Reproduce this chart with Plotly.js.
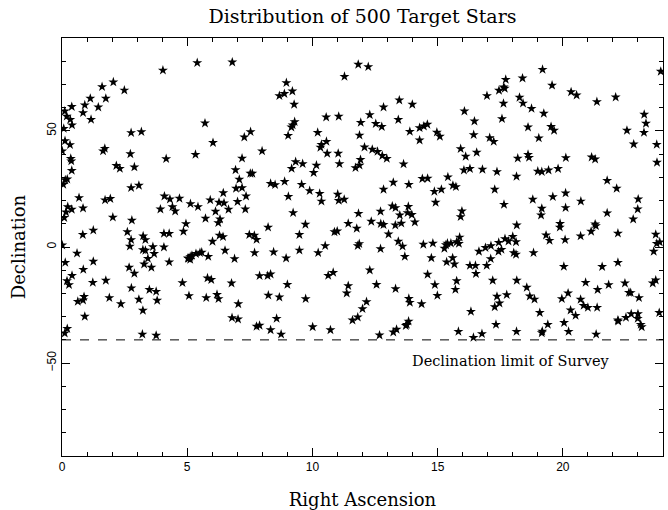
<!DOCTYPE html>
<html>
<head>
<meta charset="utf-8">
<script src="https://cdn.plot.ly/plotly-3.0.1.min.js"></script>
<style>html,body{margin:0;padding:0;background:#fff}#chart{width:668px;height:510px}</style>
</head>
<body>
<div id="chart"></div>
<script>
// Right Ascension (hours) of the target stars
const ra = [
4.03,2.05,1.60,2.49,1.13,1.75,0.91,0.39,1.45,0.11,0.84,0.19,0.33,1.16,0.40,0.07,2.76,3.17,0.12,0.32,
1.71,1.64,0.01,2.73,0.35,0.37,4.16,2.17,2.31,2.89,0.39,0.13,0.21,0.05,3.07,2.76,0.68,1.72,1.93,4.09,
4.31,4.69,0.23,0.39,0.16,0.84,0.09,3.93,4.41,4.52,2.03,2.79,1.25,0.83,2.61,2.76,3.24,3.33,4.07,4.28,
2.71,3.63,4.07,0.01,3.23,3.33,3.68,0.60,3.43,3.28,3.57,4.28,0.13,1.25,0.85,2.68,2.89,0.40,0.20,0.28,
1.23,1.75,2.77,3.49,3.76,0.88,0.84,0.63,1.89,2.35,3.07,3.80,3.23,0.91,0.21,0.11,3.21,3.76,
5.40,6.80,8.96,8.68,8.88,9.20,9.27,5.71,9.29,9.21,9.16,7.53,7.28,9.03,6.03,5.33,7.99,7.19,9.33,9.17,
6.93,7.52,7.60,7.08,8.33,8.51,8.89,6.95,7.19,6.44,7.35,9.04,5.13,5.92,6.27,6.47,7.01,5.43,6.13,6.65,
7.32,9.23,5.73,6.31,6.24,4.95,4.85,8.23,6.29,6.43,7.48,7.68,7.77,6.01,9.48,6.51,7.69,8.45,9.48,6.89,
8.95,5.05,5.12,5.19,5.35,5.51,5.58,5.84,5.12,5.03,4.81,5.81,5.96,6.77,7.89,8.21,8.33,9.00,5.07,5.76,
6.19,6.25,8.24,8.68,7.04,6.79,7.03,8.57,7.77,7.89,8.33,8.75,
11.83,12.23,11.28,13.47,13.99,12.84,10.55,11.05,12.29,11.93,12.53,12.77,13.43,10.21,11.88,13.89,14.28,14.28,10.56,10.36,
10.32,10.59,11.03,12.08,12.39,12.60,12.79,12.97,11.92,11.88,11.72,9.61,10.16,11.08,13.64,10.05,9.57,9.89,10.29,10.36,
11.01,11.05,11.27,12.84,13.23,13.85,13.19,13.32,13.83,13.80,13.97,13.49,12.72,11.84,9.72,11.43,12.35,12.73,12.84,13.31,
13.55,14.09,11.77,10.88,10.99,13.04,10.23,10.51,11.81,11.87,12.72,13.43,13.60,13.69,10.63,10.83,12.29,12.56,13.32,11.43,
11.37,9.73,12.16,12.00,11.81,11.60,13.85,13.89,13.84,13.77,13.73,13.36,13.23,10.01,10.72,12.68,
17.72,18.39,17.64,17.68,17.45,16.97,18.27,18.41,18.75,17.63,16.07,16.47,17.57,18.61,19.04,14.59,14.45,14.97,15.09,16.44,
17.08,17.24,15.92,16.12,16.56,18.61,18.65,18.20,16.05,16.29,16.79,17.37,19.00,18.15,14.39,14.60,15.41,15.61,15.73,14.87,
15.15,17.28,18.80,14.92,17.65,15.97,15.92,18.16,14.43,14.81,15.27,15.33,15.39,15.53,15.76,15.85,15.88,16.65,16.91,17.13,
17.44,17.69,17.83,18.00,18.13,17.43,17.55,18.04,18.13,18.83,14.75,15.36,15.67,15.60,16.29,16.51,17.12,16.96,16.53,14.60,
14.89,14.99,14.36,15.76,15.71,17.20,18.16,18.56,17.37,17.76,17.47,17.28,18.68,18.87,19.08,16.33,17.33,15.83,16.43,16.77,18.15,
19.19,19.57,20.33,20.55,21.36,22.11,23.91,19.24,19.53,19.65,22.56,22.83,23.25,23.32,23.24,23.75,23.76,20.12,21.15,21.29,
19.16,19.43,19.81,21.77,22.15,19.60,20.11,20.72,23.01,19.16,19.13,20.11,21.77,22.99,22.81,19.89,19.88,21.29,21.32,21.13,
19.33,19.47,20.09,20.71,22.20,23.71,23.75,23.87,23.63,20.04,21.57,22.20,20.91,21.39,21.83,22.48,22.64,22.71,23.04,23.59,
23.71,19.96,20.21,20.71,20.83,21.00,21.37,20.31,20.51,19.40,20.05,20.23,19.16,19.18,21.33,22.20,22.21,22.52,22.73,23.00,
22.99,23.11,23.15,23.85
];
// Declination (degrees) of the same stars, in the same order
const dec = [
76.1,71.0,69.0,67.5,64.0,64.0,61.1,60.4,60.2,58.5,57.8,56.3,54.9,54.9,52.5,51.0,49.2,49.6,45.7,44.0,
42.4,41.3,41.3,40.1,38.1,37.0,38.0,35.0,33.8,34.4,32.9,28.9,29.2,26.9,26.5,25.5,21.2,20.2,20.8,21.9,
20.6,20.9,17.3,16.2,15.0,16.7,12.6,16.3,17.3,15.4,12.8,11.5,7.2,5.3,6.5,3.1,4.7,3.1,5.8,5.8,
0.3,0.1,-0.1,0.8,-1.2,-1.5,-2.9,-2.7,-5.0,-7.4,-8.8,-6.5,-6.7,-6.2,-9.7,-8.8,-11.4,-12.3,-14.6,-16.3,
-15.3,-14.4,-17.7,-18.4,-19.2,-21.4,-22.9,-23.5,-21.9,-24.5,-22.6,-23.0,-27.3,-29.9,-35.2,-37.1,-37.6,-38.1,
79.3,79.6,70.7,65.1,66.0,67.1,61.4,53.3,53.9,52.5,51.6,49.6,47.3,48.0,44.9,39.8,41.3,38.2,36.7,33.8,
33.2,31.7,31.7,29.1,27.3,26.8,28.2,25.2,25.5,23.3,21.9,21.7,18.6,20.2,19.2,18.9,19.5,17.3,15.3,16.2,
16.3,14.7,12.3,12.0,10.4,10.0,6.7,8.5,5.0,4.4,5.3,5.0,3.2,2.4,5.3,-1.5,-2.5,-2.2,-1.4,-5.1,
-4.8,-5.0,-4.2,-3.7,-2.9,-2.5,-2.3,-4.1,-5.4,-4.8,-15.4,-13.4,-14.1,-15.6,-12.4,-12.4,-11.7,-16.2,-21.0,-21.9,
-20.5,-22.3,-20.8,-21.6,-24.5,-30.5,-31.1,-30.8,-34.2,-33.8,-35.7,-37.6,
78.6,77.6,73.4,63.2,61.4,60.2,55.9,56.2,56.9,53.6,53.1,51.8,54.8,49.3,48.1,49.7,51.3,46.0,45.4,44.1,
42.9,40.3,40.3,43.0,42.0,41.1,39.3,38.1,37.6,35.2,34.1,35.8,35.2,35.8,35.7,32.0,26.9,24.2,23.0,19.7,
22.7,20.0,20.5,24.8,27.8,26.9,17.6,16.9,17.4,14.7,13.9,13.7,15.3,14.4,9.7,10.1,11.0,10.0,9.6,9.4,
10.2,10.7,8.0,6.5,6.8,5.5,-2.5,0.5,0.5,1.4,-0.8,2.4,0.3,-4.1,-12.3,-11.0,-10.0,-16.2,-18.0,-16.7,
-19.9,-22.3,-23.6,-26.6,-30.2,-31.5,-22.2,-23.9,-32.0,-33.4,-33.9,-35.5,-36.7,-34.4,-35.7,-38.0,
72.1,72.7,68.8,68.3,67.4,65.1,64.4,61.9,59.6,61.8,58.5,54.2,55.2,51.6,46.9,52.8,52.0,49.4,47.6,48.3,
47.0,45.4,42.3,39.0,40.7,39.8,38.5,38.2,33.1,33.7,33.4,32.4,32.6,30.4,29.4,29.5,30.1,26.5,25.9,23.9,
24.8,24.8,20.5,19.2,18.3,15.4,13.0,9.4,1.1,1.6,-0.6,0.9,1.6,1.6,2.2,1.5,4.2,-1.9,-0.3,0.5,
1.9,3.5,2.5,4.5,2.2,-1.9,-1.1,-2.5,-3.2,-2.5,-4.7,-6.5,-7.4,-4.7,-8.0,-8.0,-5.1,-8.0,-11.5,-11.8,
-16.3,-20.9,-24.5,-14.6,-18.3,-14.4,-14.4,-17.4,-21.3,-20.6,-24.2,-25.8,-21.2,-22.5,-28.3,-27.8,-33.4,-36.4,-39.0,-37.4,-36.4,
76.4,69.6,66.8,65.4,62.5,64.5,75.6,57.5,51.8,50.2,50.2,44.3,57.1,53.2,49.3,44.1,36.4,38.4,38.7,37.8,
32.4,33.1,33.7,28.6,25.2,21.6,23.2,19.7,20.6,16.6,13.7,16.9,14.6,16.3,12.0,10.1,8.5,9.8,9.1,6.7,
5.1,2.8,3.1,4.7,5.9,5.4,1.5,2.1,-1.9,-8.4,-8.5,-6.7,-15.3,-18.4,-16.3,-15.6,-19.6,-19.7,-21.9,-15.6,
-14.3,-22.3,-19.9,-22.6,-25.2,-26.1,-26.1,-27.2,-29.5,-33.4,-32.6,-36.4,-37.0,-36.3,-37.6,-31.5,-32.0,-30.4,-28.8,-28.8,
-30.8,-33.4,-34.4,-28.3
];
const surveyLimit = -40;
const xTicks = [0, 5, 10, 15, 20];
const yTicks = [-50, 0, 50];
const yTickText = ['\u221250', '0', '50'];

const serif = 'DejaVu Serif';
const trace = {
  x: ra, y: dec, type: 'scatter', mode: 'markers',
  marker: {symbol: 'star', size: 7.5, color: '#000', line: {width: 0}},
  hoverinfo: 'skip'
};
const axisCommon = {
  showline: true, linecolor: '#000', linewidth: 1, mirror: 'ticks',
  ticks: 'inside', ticklen: 8, tickwidth: 1, tickcolor: '#000',
  showgrid: false, zeroline: false,
  tickfont: {family: 'Liberation Sans', size: 12, color: '#000'}
};
const layout = {
  width: 668, height: 510,
  paper_bgcolor: '#fff', plot_bgcolor: '#fff',
  margin: {l: 62, r: 5, t: 38, b: 54},
  showlegend: false,
  title: {text: 'Distribution of 500 Target Stars', font: {family: serif, size: 19, color: '#000'},
          xref: 'paper', x: 0.5, xanchor: 'center', yref: 'container', y: 0.967, yanchor: 'middle'},
  xaxis: Object.assign({}, axisCommon, {
    range: [0, 24], tickmode: 'array', tickvals: xTicks, ticktext: xTicks.map(String),
    minor: {dtick: 1, tick0: 0, ticks: 'inside', ticklen: 4, tickcolor: '#000', showgrid: false},
    title: {text: 'Right Ascension', font: {family: serif, size: 18, color: '#000'}, standoff: 22}
  }),
  yaxis: Object.assign({}, axisCommon, {
    range: [-90, 90], tickmode: 'array', tickvals: yTicks, ticktext: yTickText, tickangle: -90,
    minor: {dtick: 10, tick0: 0, ticks: 'inside', ticklen: 4, tickcolor: '#000', showgrid: false},
    title: {text: 'Declination', font: {family: serif, size: 18, color: '#000'}, standoff: 14}
  }),
  shapes: [{type: 'line', xref: 'x', yref: 'y', x0: 0, x1: 24, y0: surveyLimit, y1: surveyLimit,
            line: {color: '#000', width: 1, dash: 'dash'}}],
  annotations: [{text: 'Declination limit of Survey', xref: 'x', yref: 'y', x: 21.96, y: -49,
                 xanchor: 'right', yanchor: 'middle', showarrow: false,
                 font: {family: serif, size: 14.5, color: '#000'}}]
};
Plotly.newPlot('chart', [trace], layout, {staticPlot: true, displayModeBar: false});
</script>
</body>
</html>
